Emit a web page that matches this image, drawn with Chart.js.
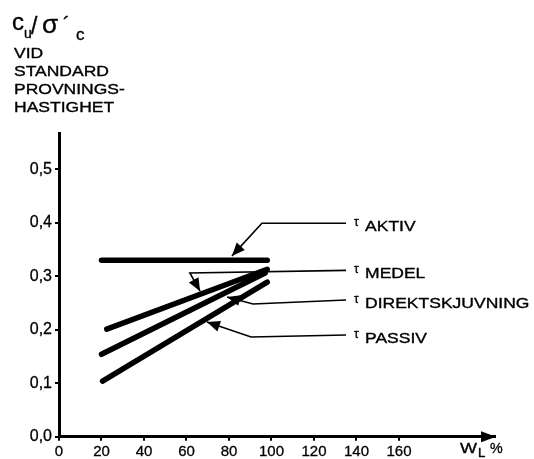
<!DOCTYPE html>
<html>
<head>
<meta charset="utf-8">
<script src="https://cdn.jsdelivr.net/npm/chart.js@4"></script>
<style>
    body { margin: 0; background: #fff; }
    canvas { display: block; }
</style>
</head>
<body>
<canvas id="myChart" width="534" height="459"></canvas>
<script>
// tick values
const xTicks = [0, 20, 40, 60, 80, 100, 120, 140, 160];
const yTicks = [0, 0.1, 0.2, 0.3, 0.4, 0.5];

// series (wL %, cu/sigma'c)
const seriesNames = ['AKTIV', 'MEDEL', 'DIREKTSKJUVNING', 'PASSIV'];
const aktivX = [20, 98];
const aktivY = [0.33, 0.33];
const medelX = [22.5, 98];
const medelY = [0.201, 0.313];
const direktX = [20, 97];
const direktY = [0.154, 0.306];
const passivX = [20.5, 98];
const passivY = [0.104, 0.289];

// leader lines from label to line, in data units (last point = arrow tip)
const leaders = [
    [[135.1, 0.399], [95.5, 0.399], [81.4, 0.338]],
    [[135.1, 0.311], [61.6, 0.306], [66.4, 0.272]],
    [[135.1, 0.2555], [91.3, 0.248], [79.1, 0.261]],
    [[135.1, 0.190], [90.4, 0.1863], [69.6, 0.2144]]
];

const FONT = '"Liberation Sans", Arial, sans-serif';
Chart.defaults.font.family = FONT;
Chart.defaults.color = '#000';

function pts(xs, ys) {
    return xs.map((x, i) => ({ x: x, y: ys[i] }));
}

function lineSet(label, xs, ys) {
    return {
        label: label,
        data: pts(xs, ys),
        borderColor: '#000',
        borderWidth: 5.5,
        borderCapStyle: 'round',
        pointRadius: 0,
        clip: false
    };
}

// scanned lettering is wide and a bit heavy: stretch + thin outline
function stretchText(ctx, str, x, y, size, sx) {
    ctx.save();
    ctx.font = size + 'px ' + FONT;
    ctx.fillStyle = '#000';
    ctx.strokeStyle = '#000';
    ctx.lineWidth = 0.35;
    ctx.lineJoin = 'round';
    ctx.textBaseline = 'alphabetic';
    ctx.textAlign = 'left';
    ctx.translate(x, y);
    ctx.scale(sx, 1);
    ctx.fillText(str, 0, 0);
    ctx.strokeText(str, 0, 0);
    ctx.restore();
}

function arrowHead(ctx, fx, fy, tx, ty, len, half) {
    const a = Math.atan2(ty - fy, tx - fx);
    ctx.beginPath();
    ctx.moveTo(tx, ty);
    ctx.lineTo(tx - len * Math.cos(a) + half * Math.sin(a), ty - len * Math.sin(a) - half * Math.cos(a));
    ctx.lineTo(tx - len * Math.cos(a) - half * Math.sin(a), ty - len * Math.sin(a) + half * Math.cos(a));
    ctx.closePath();
    ctx.fill();
}

const decorate = {
    id: 'decorate',
    afterDraw(chart) {
        const ctx = chart.ctx;
        const xs = chart.scales.x, ys = chart.scales.y;
        ctx.save();
        ctx.fillStyle = '#000';
        ctx.strokeStyle = '#000';

        // arrow at end of x axis
        const ax = xs.right, ay = ys.bottom;
        arrowHead(ctx, ax - 20, ay, ax + 1, ay, 15, 5.5);

        // leaders + labels
        leaders.forEach((path, i) => {
            const p = path.map(d => [xs.getPixelForValue(d[0]), ys.getPixelForValue(d[1])]);
            ctx.lineWidth = 1.6;
            ctx.beginPath();
            ctx.moveTo(p[0][0], p[0][1]);
            for (let k = 1; k < p.length; k++) ctx.lineTo(p[k][0], p[k][1]);
            ctx.stroke();
            const n = p.length;
            arrowHead(ctx, p[n - 2][0], p[n - 2][1], p[n - 1][0], p[n - 1][1], 13, 5.5);

            stretchText(ctx, '\u03C4', p[0][0] + 8, p[0][1] + 3, 12, 1);
            stretchText(ctx, seriesNames[i], p[0][0] + 19, p[0][1] + 8, 14, 1.25);
        });

        // y-axis title
        stretchText(ctx, 'c', 12, 30, 24, 1);
        stretchText(ctx, 'u', 24, 38, 14, 1);
        stretchText(ctx, '/', 31, 34, 23, 1);
        stretchText(ctx, '\u03C3', 42, 33, 25, 1.05);
        stretchText(ctx, '\u00B4', 63, 31, 20, 1);
        stretchText(ctx, 'c', 76, 40, 17, 1);
        ['VID', 'STANDARD', 'PROVNINGS-', 'HASTIGHET'].forEach((s, i) => {
            stretchText(ctx, s, 14, 58 + i * 18, 14, 1.25);
        });

        // x-axis title
        stretchText(ctx, 'W', 460, 453, 15, 1.2);
        stretchText(ctx, 'L', 478, 457, 12, 1.1);
        stretchText(ctx, '%', 490, 453, 15, 0.95);
        ctx.restore();
    }
};

new Chart(document.getElementById('myChart'), {
    type: 'line',
    data: {
        datasets: [
            lineSet(seriesNames[0], aktivX, aktivY),
            lineSet(seriesNames[1], medelX, medelY),
            lineSet(seriesNames[2], direktX, direktY),
            lineSet(seriesNames[3], passivX, passivY)
        ]
    },
    options: {
        responsive: false,
        animation: false,
        devicePixelRatio: 1,
        layout: { padding: { left: 0, top: 133, right: 39, bottom: 0 } },
        plugins: { legend: { display: false }, tooltip: { enabled: false } },
        scales: {
            x: {
                type: 'linear',
                min: 0,
                max: 205.2,
                afterBuildTicks: (s) => { s.ticks = xTicks.map(v => ({ value: v })); },
                afterFit: (s) => { s.height = 22.3; },
                grid: { drawOnChartArea: false, tickLength: 4, color: '#000', lineWidth: 2 },
                border: { color: '#000', width: 3 },
                ticks: {
                    font: { size: 15 },
                    padding: 2,
                    maxRotation: 0,
                    autoSkip: false,
                    textStrokeColor: '#000',
                    textStrokeWidth: 0.3
                }
            },
            y: {
                type: 'linear',
                min: 0,
                max: 0.5677,
                afterBuildTicks: (s) => { s.ticks = yTicks.map(v => ({ value: v })); },
                afterFit: (s) => { s.width = 59; },
                grid: { drawOnChartArea: false, tickLength: 4, color: '#000', lineWidth: 2 },
                border: { color: '#000', width: 3 },
                ticks: {
                    font: { size: 16 },
                    padding: 3,
                    autoSkip: false,
                    textStrokeColor: '#000',
                    textStrokeWidth: 0.3,
                    callback: (v) => v.toFixed(1).replace('.', ',')
                }
            }
        }
    },
    plugins: [decorate]
});
</script>
</body>
</html>
